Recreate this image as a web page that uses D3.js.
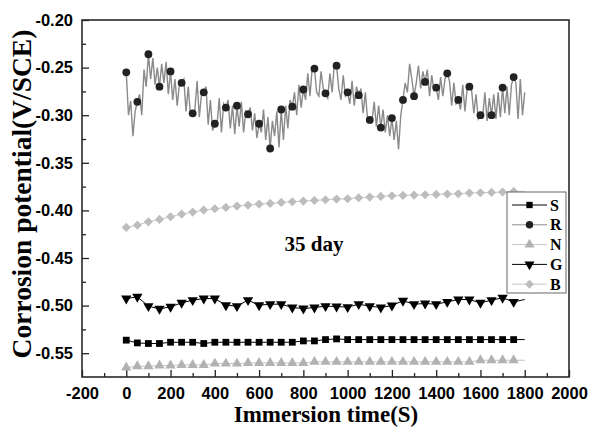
<!DOCTYPE html>
<html>
<head>
<meta charset="utf-8">
<script src="https://cdn.jsdelivr.net/npm/d3@7"></script>
<style>
  body { margin: 0; background: #fff; }
  .title { font-family: "Liberation Serif", "Times New Roman", serif; font-weight: bold; fill: #000; }
</style>
</head>
<body>
<svg id="chart" width="590" height="427"></svg>
<script>
// marker times (s), one marker every 50 s; lines run to 1800 s
var markerTimes = [0, 50, 100, 150, 200, 250, 300, 350, 400, 450, 500, 550, 600, 650, 700, 750, 800, 850,
  900, 950, 1000, 1050, 1100, 1150, 1200, 1250, 1300, 1350, 1400, 1450, 1500, 1550, 1600, 1650, 1700, 1750, 1800];

var sValues = [-0.5363, -0.5392, -0.5398, -0.5398, -0.5385, -0.5385, -0.5385, -0.5398, -0.5385, -0.5385,
  -0.5385, -0.5385, -0.5385, -0.5385, -0.5385, -0.5385, -0.5371, -0.5371, -0.5357, -0.5350, -0.5357,
  -0.5357, -0.5357, -0.5357, -0.5357, -0.5357, -0.5357, -0.5357, -0.5357, -0.5357, -0.5357, -0.5357,
  -0.5357, -0.5357, -0.5357, -0.5357, -0.5357];

var nValues = [-0.5651, -0.5637, -0.5637, -0.5630, -0.5630, -0.5623, -0.5623, -0.5623, -0.5609, -0.5609,
  -0.5609, -0.5602, -0.5602, -0.5602, -0.5602, -0.5602, -0.5602, -0.5591, -0.5591, -0.5591, -0.5591,
  -0.5591, -0.5591, -0.5591, -0.5591, -0.5591, -0.5591, -0.5591, -0.5591, -0.5591, -0.5591, -0.5591,
  -0.5574, -0.5574, -0.5574, -0.5574, -0.5574];

var gValues = [-0.4926, -0.4908, -0.5006, -0.5034, -0.5013, -0.4971, -0.4943, -0.4926, -0.4926, -0.4996,
  -0.5006, -0.4943, -0.4996, -0.4985, -0.4985, -0.5020, -0.5031, -0.5020, -0.5006, -0.5010, -0.5016,
  -0.4985, -0.5006, -0.5020, -0.4999, -0.4950, -0.4985, -0.4978, -0.4985, -0.4961, -0.4936, -0.4936,
  -0.4971, -0.4943, -0.4918, -0.4961, -0.4936];

var bValues = [-0.4179, -0.4155, -0.4120, -0.4095, -0.4067, -0.4039, -0.4018, -0.3997, -0.3983, -0.3969,
  -0.3955, -0.3944, -0.3934, -0.3927, -0.3916, -0.3909, -0.3902, -0.3895, -0.3888, -0.3881, -0.3878,
  -0.3867, -0.3860, -0.3853, -0.3846, -0.3843, -0.3839, -0.3836, -0.3832, -0.3829, -0.3825, -0.3818,
  -0.3815, -0.3811, -0.3808, -0.3801, -0.3800];

// R markers (every 50 s, 0..1750)
var rMarkers = [-0.255, -0.286, -0.236, -0.270, -0.254, -0.266, -0.298, -0.276, -0.309, -0.292, -0.290,
  -0.299, -0.309, -0.335, -0.294, -0.291, -0.273, -0.251, -0.277, -0.248, -0.276, -0.279, -0.305, -0.313,
  -0.303, -0.284, -0.280, -0.265, -0.271, -0.256, -0.284, -0.270, -0.300, -0.300, -0.271, -0.260];

// R raw trace, one reading every 10 s, 0..1800
var rStep = 10;
var rTrace = [
  -0.255, -0.300, -0.285, -0.322, -0.296,  -0.286, -0.278, -0.300, -0.252, -0.270,
  -0.236, -0.262, -0.240, -0.268, -0.250,  -0.270, -0.246, -0.266, -0.244, -0.278,
  -0.254, -0.284, -0.262, -0.290, -0.268,  -0.266, -0.262, -0.296, -0.270, -0.300,
  -0.298, -0.294, -0.264, -0.302, -0.278,  -0.276, -0.270, -0.310, -0.284, -0.316,
  -0.309, -0.310, -0.282, -0.318, -0.288,  -0.292, -0.284, -0.314, -0.290, -0.320,
  -0.290, -0.312, -0.286, -0.318, -0.296,  -0.299, -0.292, -0.316, -0.298, -0.324,
  -0.309, -0.318, -0.294, -0.326, -0.302,  -0.335, -0.306, -0.322, -0.296, -0.334,
  -0.294, -0.326, -0.290, -0.314, -0.284,  -0.291, -0.276, -0.300, -0.268, -0.292,
  -0.273, -0.284, -0.256, -0.280, -0.250,  -0.251, -0.276, -0.280, -0.254, -0.272,
  -0.277, -0.282, -0.256, -0.276, -0.246,  -0.248, -0.272, -0.284, -0.258, -0.280,
  -0.276, -0.288, -0.264, -0.290, -0.270,  -0.279, -0.272, -0.298, -0.276, -0.304,
  -0.305, -0.306, -0.286, -0.312, -0.290,  -0.313, -0.294, -0.318, -0.300, -0.322,
  -0.303, -0.326, -0.306, -0.336, -0.300,  -0.284, -0.266, -0.276, -0.246, -0.262,
  -0.280, -0.266, -0.248, -0.272, -0.254,  -0.265, -0.252, -0.280, -0.258, -0.274,
  -0.271, -0.284, -0.260, -0.280, -0.262,  -0.256, -0.264, -0.290, -0.266, -0.288,
  -0.284, -0.294, -0.268, -0.296, -0.272,  -0.270, -0.274, -0.298, -0.278, -0.304,
  -0.300, -0.302, -0.276, -0.306, -0.282,  -0.300, -0.278, -0.304, -0.276, -0.302,
  -0.271, -0.298, -0.270, -0.300, -0.268,  -0.260, -0.266, -0.304, -0.262, -0.300,
  -0.276
];

var xTicks = [-200, 0, 200, 400, 600, 800, 1000, 1200, 1400, 1600, 1800, 2000];
var xMinorTicks = [-100, 100, 300, 500, 700, 900, 1100, 1300, 1500, 1700, 1900];
var yTicks = [-0.55, -0.50, -0.45, -0.40, -0.35, -0.30, -0.25, -0.20];
var yMinorTicks = [-0.525, -0.475, -0.425, -0.375, -0.325, -0.275, -0.225];
var legendNames = ['S', 'R', 'N', 'G', 'B'];

var svg = d3.select('#chart');
var pLeft = 82, pRight = 569, pTop = 20, pBottom = 377;

var x = d3.scaleLinear().domain([-200, 2000]).range([pLeft, pRight]);
var y = d3.scaleLinear().domain([-0.575, -0.20]).range([pBottom, pTop]);

function noDomain(g) { g.select('.domain').remove(); }

svg.append('g').attr('transform', 'translate(0,' + pBottom + ')')
  .call(d3.axisBottom(x).tickValues(xMinorTicks).tickSize(-4).tickFormat(''))
  .call(noDomain);
svg.append('g').attr('transform', 'translate(' + pLeft + ',0)')
  .call(d3.axisLeft(y).tickValues(yMinorTicks).tickSize(-4).tickFormat(''))
  .call(noDomain);

svg.append('g').attr('transform', 'translate(0,' + pBottom + ')')
  .call(d3.axisBottom(x).tickValues(xTicks).tickSize(-7).tickPadding(10).tickFormat(d3.format('d')))
  .call(noDomain);
svg.append('g').attr('transform', 'translate(' + pLeft + ',0)')
  .call(d3.axisLeft(y).tickValues(yTicks).tickSize(-7).tickPadding(9).tickFormat(d3.format('.2f')))
  .call(noDomain);

svg.selectAll('.tick line').attr('stroke', '#222').attr('stroke-width', 1.3);
svg.selectAll('.tick text')
  .attr('font-family', '"Liberation Sans", Arial, sans-serif')
  .attr('font-weight', 'bold')
  .attr('font-size', '16.5px')
  .attr('fill', '#000')
  .text(function() { return this.textContent.replace('\u2212', '-'); });

// frame
svg.append('rect').attr('x', pLeft).attr('y', pTop)
  .attr('width', pRight - pLeft).attr('height', pBottom - pTop)
  .attr('fill', 'none').attr('stroke', '#2a2a2a').attr('stroke-width', 1.6);

var line = d3.line().x(function(d) { return x(d[0]); }).y(function(d) { return y(d[1]); });

function pairs(vals) { return vals.map(function(v, i) { return [markerTimes[i], v]; }); }

var series = [
  { name: 'S', vals: sValues, line: '#000', fill: '#000', shape: d3.symbolSquare, size: 46, rot: 0 },
  { name: 'N', vals: nValues, line: '#c4c4c4', fill: '#b2b2b2', shape: d3.symbolTriangle, size: 46, rot: 0 },
  { name: 'B', vals: bValues, line: '#c8c8c8', fill: '#bdbdbd', shape: d3.symbolSquare, size: 42, rot: 45 },
  { name: 'G', vals: gValues, line: '#000', fill: '#000', shape: d3.symbolTriangle, size: 46, rot: 180 }
];

// R trace
var rPts = rTrace.map(function(v, i) { return [i * rStep, v]; });
svg.append('path').datum(rPts).attr('d', line)
  .attr('fill', 'none').attr('stroke', '#8a8a8a').attr('stroke-width', 1.4);

series.forEach(function(s) {
  var pts = pairs(s.vals);
  svg.append('path').datum(pts).attr('d', line)
    .attr('fill', 'none').attr('stroke', s.line).attr('stroke-width', 1);
  svg.append('g').selectAll('path').data(pts.slice(0, -1)).enter().append('path')
    .attr('d', d3.symbol().type(s.shape).size(s.size))
    .attr('transform', function(d) { return 'translate(' + x(d[0]) + ',' + y(d[1]) + ') rotate(' + s.rot + ')'; })
    .attr('fill', s.fill);
});

svg.append('g').selectAll('circle').data(pairs(rMarkers)).enter().append('circle')
  .attr('cx', function(d) { return x(d[0]); })
  .attr('cy', function(d) { return y(d[1]); })
  .attr('r', 3.9).attr('fill', '#222');

// annotation
svg.append('text').attr('class', 'title').attr('x', 314).attr('y', 251)
  .attr('text-anchor', 'middle').style('font-size', '21px').text('35 day');

// axis titles
svg.append('text').attr('class', 'title').attr('x', 326).attr('y', 422)
  .attr('text-anchor', 'middle').style('font-size', '23px').text('Immersion time(S)');
svg.append('text').attr('class', 'title')
  .attr('transform', 'translate(31,194) rotate(-90)')
  .attr('text-anchor', 'middle').style('font-size', '27.5px').text('Corrosion potential(V/SCE)');

// legend
var lg = svg.append('g');
lg.append('rect').attr('x', 507).attr('y', 192).attr('width', 59).attr('height', 101)
  .attr('fill', '#fff').attr('stroke', '#666').attr('stroke-width', 1);

var legendStyle = {
  S: { line: '#000', fill: '#000', shape: d3.symbolSquare, size: 40, rot: 0 },
  R: { line: '#8e8e8e', fill: '#222', shape: d3.symbolCircle, size: 44, rot: 0 },
  N: { line: '#c4c4c4', fill: '#b2b2b2', shape: d3.symbolTriangle, size: 44, rot: 0 },
  G: { line: '#000', fill: '#000', shape: d3.symbolTriangle, size: 44, rot: 180 },
  B: { line: '#c8c8c8', fill: '#bdbdbd', shape: d3.symbolSquare, size: 40, rot: 45 }
};
legendNames.forEach(function(n, i) {
  var st = legendStyle[n], ly = 205 + i * 19.8;
  lg.append('line').attr('x1', 512).attr('x2', 547).attr('y1', ly).attr('y2', ly)
    .attr('stroke', st.line).attr('stroke-width', 1);
  lg.append('path').attr('d', d3.symbol().type(st.shape).size(st.size))
    .attr('transform', 'translate(529.5,' + ly + ') rotate(' + st.rot + ')').attr('fill', st.fill);
  lg.append('text').attr('class', 'title').attr('x', 550).attr('y', ly + 5.5)
    .style('font-size', '16px').text(n);
});
</script>
</body>
</html>
